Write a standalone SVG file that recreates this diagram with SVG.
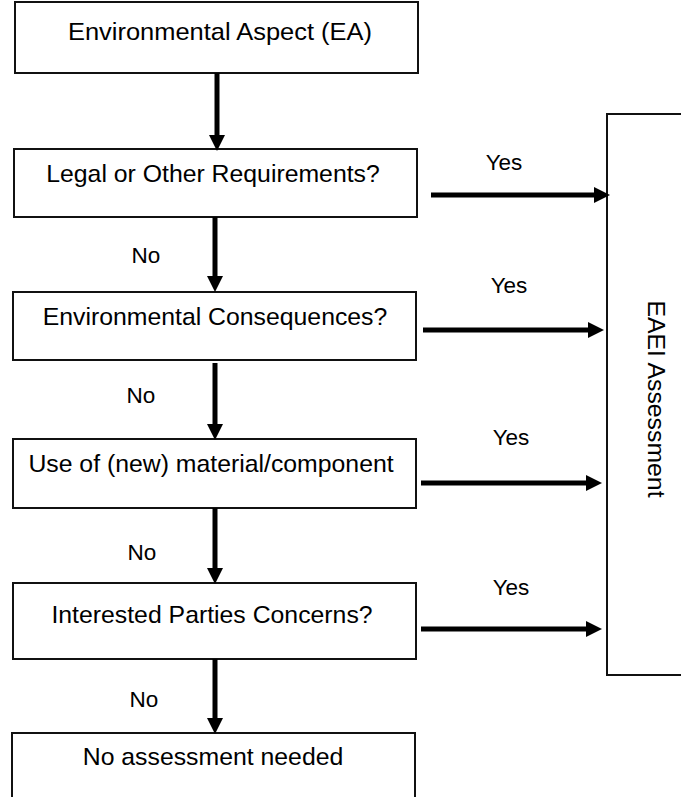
<svg xmlns="http://www.w3.org/2000/svg" width="681" height="797" viewBox="0 0 681 797">
<style>
.box{fill:#fff;stroke:#111;stroke-width:2}
.t{font-family:"Liberation Sans",Arial,sans-serif;font-size:24.8px;fill:#000;text-anchor:middle}
.l{font-family:"Liberation Sans",Arial,sans-serif;font-size:22.5px;fill:#000;text-anchor:middle}
.c{fill:none;stroke:#000;stroke-width:5}
</style>
<defs>
<marker id="ah" markerUnits="userSpaceOnUse" markerWidth="16" markerHeight="16" viewBox="0 0 15 15" refX="0" refY="7.5" orient="auto">
<path d="M0,0 L15,7.5 L0,15 z" fill="#000"/>
</marker>
</defs>
<rect width="681" height="797" fill="#fff"/>
<g id="n1"><rect class="box" x="15" y="2" width="403" height="71"/><text class="t" x="220" y="40" textLength="304" lengthAdjust="spacingAndGlyphs">Environmental Aspect (EA)</text></g>
<g id="n2"><rect class="box" x="14" y="149" width="403" height="68"/><text class="t" x="213" y="182">Legal or Other Requirements?</text></g>
<g id="n3"><rect class="box" x="13" y="292" width="403" height="68"/><text class="t" x="215" y="325">Environmental Consequences?</text></g>
<g id="n4"><rect class="box" x="13" y="439" width="403" height="69"/><text class="t" x="211" y="472">Use of (new) material/component</text></g>
<g id="n5"><rect class="box" x="13" y="583" width="403" height="76"/><text class="t" x="212" y="623">Interested Parties Concerns?</text></g>
<g id="n6"><rect class="box" x="12" y="733" width="403" height="70"/><text class="t" x="213" y="765">No assessment needed</text></g>
<g id="n7"><rect class="box" x="607" y="114" width="80" height="561"/><text class="t" transform="translate(648,399) rotate(90)" x="0" y="0">EAEI Assessment</text></g>
<g id="connectors">
<path class="c" d="M217,73 V135" marker-end="url(#ah)"/>
<path class="c" d="M215,217 V276" marker-end="url(#ah)"/>
<path class="c" d="M215,363 V424" marker-end="url(#ah)"/>
<path class="c" d="M215,508 V568" marker-end="url(#ah)"/>
<path class="c" d="M215,659 V718" marker-end="url(#ah)"/>
<path class="c" d="M431,195 H594" marker-end="url(#ah)"/>
<path class="c" d="M423,330 H588" marker-end="url(#ah)"/>
<path class="c" d="M421,483 H586" marker-end="url(#ah)"/>
<path class="c" d="M421,629 H586" marker-end="url(#ah)"/>
<text class="l" x="146" y="263">No</text>
<text class="l" x="141" y="403">No</text>
<text class="l" x="142" y="560">No</text>
<text class="l" x="144" y="707">No</text>
<text class="l" x="504" y="170">Yes</text>
<text class="l" x="509" y="293">Yes</text>
<text class="l" x="511" y="445">Yes</text>
<text class="l" x="511" y="595">Yes</text>
</g>
</svg>
